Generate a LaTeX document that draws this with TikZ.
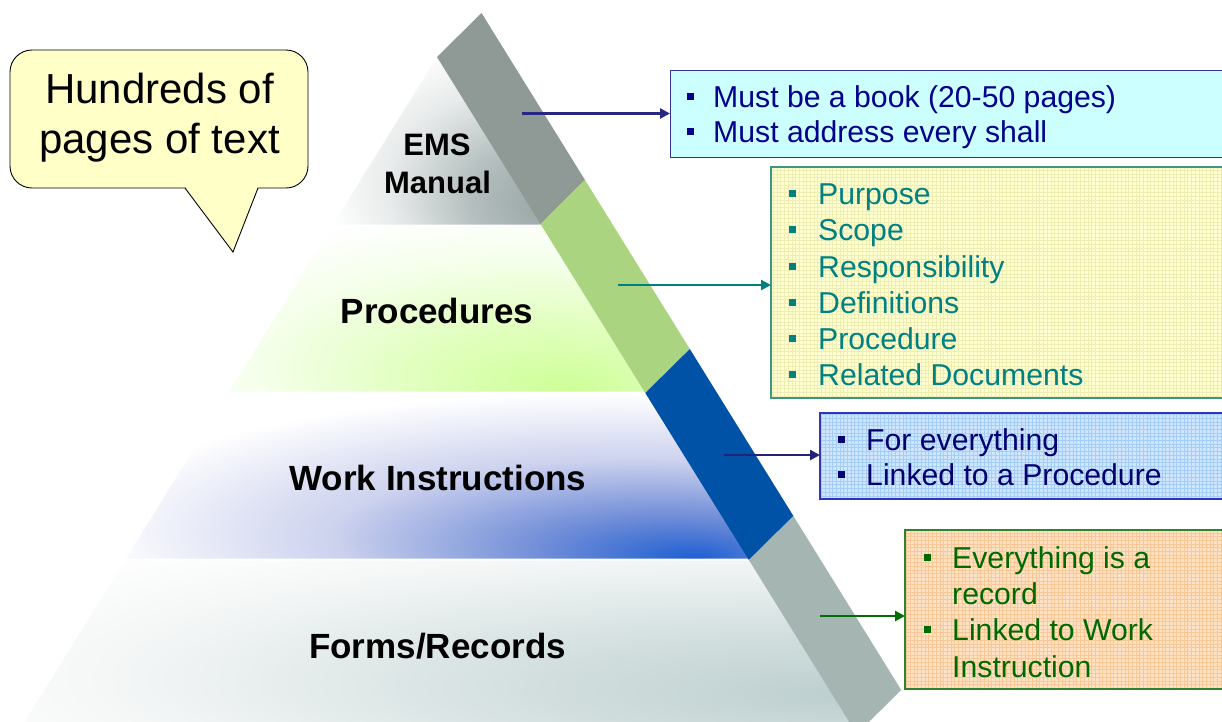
\documentclass[tikz,border=0pt]{standalone}
\usepackage{fontspec}
\setmainfont{Liberation Sans}
\usetikzlibrary{arrows.meta,calc}
\definecolor{bandgrayA}{RGB}{143,153,150}
\definecolor{bandgreen}{RGB}{171,212,128}
\definecolor{bandblue}{RGB}{0,82,166}
\definecolor{bandgrayB}{RGB}{165,181,178}
\definecolor{emsA}{RGB}{150,162,162}
\definecolor{emsB}{RGB}{180,190,190}
\definecolor{emsC}{RGB}{232,235,235}
\definecolor{procA}{RGB}{205,255,150}
\definecolor{procB}{RGB}{225,255,190}
\definecolor{procC}{RGB}{245,255,235}
\definecolor{wiA}{RGB}{30,95,210}
\definecolor{wiB}{RGB}{110,140,215}
\definecolor{wiC}{RGB}{205,210,238}
\definecolor{formA}{RGB}{188,206,206}
\definecolor{formB}{RGB}{214,225,225}
\definecolor{formC}{RGB}{245,247,247}
\pgfdeclareradialshading{tierems}{\pgfpoint{25bp}{-20bp}}{color(0bp)=(emsA); color(15bp)=(emsB); color(30bp)=(emsC); color(42bp)=(white); color(100bp)=(white)}
\pgfdeclareradialshading{tierproc}{\pgfpoint{15bp}{-25bp}}{color(0bp)=(procA); color(16bp)=(procB); color(32bp)=(procC); color(44bp)=(white); color(100bp)=(white)}
\pgfdeclareradialshading{tierwi}{\pgfpoint{20bp}{-25bp}}{color(0bp)=(wiA); color(10bp)=(wiB); color(24bp)=(wiC); color(40bp)=(white); color(100bp)=(white)}
\pgfdeclareradialshading{tierform}{\pgfpoint{25bp}{-15bp}}{color(0bp)=(formA); color(18bp)=(formB); color(36bp)=(formC); color(48bp)=(white); color(100bp)=(white)}
\definecolor{calloutfill}{RGB}{255,255,200}
\definecolor{boxAfill}{RGB}{204,255,255}
\definecolor{boxAline}{RGB}{51,51,153}
\definecolor{boxAtext}{RGB}{0,0,140}
\definecolor{boxBfill}{RGB}{255,255,208}
\definecolor{boxBgrid}{RGB}{238,238,180}
\definecolor{boxBline}{RGB}{60,150,130}
\definecolor{boxBtext}{RGB}{0,128,128}
\definecolor{boxCfill}{RGB}{206,230,255}
\definecolor{boxCgrid}{RGB}{165,205,250}
\definecolor{boxCline}{RGB}{51,51,190}
\definecolor{boxCtext}{RGB}{0,0,110}
\definecolor{boxDfill}{RGB}{255,226,196}
\definecolor{boxDgrid}{RGB}{250,200,150}
\definecolor{boxDline}{RGB}{50,130,50}
\definecolor{boxDtext}{RGB}{0,105,0}
\definecolor{arrowA}{RGB}{40,40,130}
\definecolor{arrowB}{RGB}{0,128,128}
\definecolor{arrowC}{RGB}{35,35,120}
\definecolor{arrowD}{RGB}{0,110,0}
\newcommand{\bsq}[1]{\llap{\rule[7pt]{7.5pt}{7.5pt}\hspace{#1}}}
\begin{document}
\begin{tikzpicture}[x=1pt,y=-1pt,
  tierlabel/.style={inner sep=0pt,anchor=base,font=\fontsize{35}{42}\selectfont\bfseries},
  emslabel/.style={inner sep=0pt,anchor=base,font=\fontsize{31}{37}\selectfont\bfseries},
  calloutlabel/.style={inner sep=0pt,anchor=base,font=\fontsize{42}{50}\selectfont},
  boxline/.style={inner sep=0pt,anchor=base west,font=\fontsize{30.2}{36}\selectfont},
  infobox/.style={draw,line width=1.4pt,anchor=north west,inner sep=0pt},
  gridfine/.style={line width=0.45pt},
  connector/.style={line width=2.8pt,-{Triangle[length=10pt,width=10pt]}}
]
\useasboundingbox (0,0) rectangle (1222,721);
\fill[white] (0,0) rectangle (1222,721);
\begin{scope}
\clip (0,0) rectangle (1222,721);

% pyramid tiers
\shade[shading=tierems]
  (437,57) -- (333.1,224.5) -- (552.9,224.5) -- (449,57) -- cycle;
\shade[shading=tierproc]
  (331.9,226.5) -- (229.6,391.5) -- (656.4,391.5) -- (554.1,226.5) -- cycle;
\shade[shading=tierwi]
  (228.4,393.5) -- (126.1,558.5) -- (759.9,558.5) -- (657.6,393.5) -- cycle;
\shade[shading=tierform]
  (124.8,560.5) -- (19.7,730) -- (866.3,730) -- (761.2,560.5) -- cycle;

% diagonal band
\coordinate (L0) at (437,57);
\coordinate (L1) at (540.5,224);
\coordinate (L2) at (645.3,393);
\coordinate (L3) at (748.9,560);
\coordinate (L4) at (856.7,734);
\fill[bandgrayA] (L0) -- (L1) -- ($(L1)+(44.5,-44)$) -- ($(L0)+(44.5,-44)$) -- cycle;
\fill[bandgreen] (L1) -- (L2) -- ($(L2)+(44.5,-44)$) -- ($(L1)+(44.5,-44)$) -- cycle;
\fill[bandblue] (L2) -- (L3) -- ($(L3)+(44.5,-44)$) -- ($(L2)+(44.5,-44)$) -- cycle;
\fill[bandgrayB] (L3) -- (L4) -- ($(L4)+(44.5,-44)$) -- ($(L3)+(44.5,-44)$) -- cycle;

% tier labels
\node[emslabel] (ems1) at (437,155) {EMS};
\node[emslabel] (ems2) at (437.5,193) {Manual};
\node[tierlabel] (proc) at (437,323) {Procedures};
\node[tierlabel] (wi) at (438,490) {Work Instructions};
\node[tierlabel] (forms) at (437.5,658) {Forms/Records};

% callout
\draw[fill=calloutfill, line width=0.9pt, rounded corners=22pt] (10,50) rectangle (308,188);
\fill[calloutfill] (185,186.5) -- (233,252) -- (258,186.5) -- cycle;
\draw[line width=0.9pt] (185,188) -- (233,252) -- (258,188);
\node[calloutlabel] (c1) at (159.5,103) {Hundreds of};
\node[calloutlabel] (c2) at (159.5,153) {pages of text};

% box A
\node[infobox, draw=boxAline, fill=boxAfill, minimum width=600pt, minimum height=87pt] (bA) at (670,70) {};
\node[boxline, text=boxAtext] (a1) at (713,107) {\bsq{19pt}Must be a book (20-50 pages)};
\node[boxline, text=boxAtext] (a2) at (713,142) {\bsq{19pt}Must address every shall};

% box B
\node[infobox, draw=boxBline, fill=boxBfill, minimum width=600pt, minimum height=231pt] (bB) at (771,167) {};
\begin{scope}
\clip (771,167) rectangle (1240,398);
\draw[gridfine, boxBgrid, step=3.7pt] (771,167) grid (1240,398);
\end{scope}
\draw[boxBline, line width=1.4pt] (1240,167) -- (771,167) -- (771,398) -- (1240,398);
\node[boxline, text=boxBtext] (p1) at (818,204) {\bsq{22pt}Purpose};
\node[boxline, text=boxBtext] (p2) at (818,240) {\bsq{22pt}Scope};
\node[boxline, text=boxBtext] (p3) at (818,277) {\bsq{22pt}Responsibility};
\node[boxline, text=boxBtext] (p4) at (818,313) {\bsq{22pt}Definitions};
\node[boxline, text=boxBtext] (p5) at (818,349) {\bsq{22pt}Procedure};
\node[boxline, text=boxBtext] (p6) at (818,385) {\bsq{22pt}Related Documents};

% box C
\node[infobox, draw=boxCline, fill=boxCfill, minimum width=600pt, minimum height=86pt] (bC) at (820,413) {};
\begin{scope}
\clip (820,413) rectangle (1240,499);
\draw[gridfine, boxCgrid, step=3.7pt] (820,413) grid (1240,499);
\end{scope}
\draw[boxCline, line width=1.4pt] (1240,413) -- (820,413) -- (820,499) -- (1240,499);
\node[boxline, text=boxCtext] (w1) at (866,450) {\bsq{21pt}For everything};
\node[boxline, text=boxCtext] (w2) at (866,485) {\bsq{21pt}Linked to a Procedure};

% box D
\node[infobox, draw=boxDline, fill=boxDfill, minimum width=600pt, minimum height=159pt] (bD) at (905,530) {};
\begin{scope}
\clip (905,530) rectangle (1240,689);
\draw[gridfine, boxDgrid, step=3.7pt] (905,530) grid (1240,689);
\end{scope}
\draw[boxDline, line width=1.4pt] (1240,530) -- (905,530) -- (905,689) -- (1240,689);
\node[boxline, text=boxDtext] (f1) at (952,568) {\bsq{21pt}Everything is a};
\node[boxline, text=boxDtext] (f2) at (952,604) {record};
\node[boxline, text=boxDtext] (f3) at (952,640) {\bsq{21pt}Linked to Work};
\node[boxline, text=boxDtext] (f4) at (952,677) {Instruction};

% connectors
\coordinate (sA) at (522,113.5);
\coordinate (sB) at (618,285);
\coordinate (sC) at (724,455);
\coordinate (sD) at (820,616);
\draw[connector, arrowA] (sA) -- (sA -| bA.west);
\draw[connector, arrowB] (sB) -- (sB -| bB.west);
\draw[connector, arrowC] (sC) -- (sC -| bC.west);
\draw[connector, arrowD] (sD) -- (sD -| bD.west);
\end{scope}
\end{tikzpicture}
\end{document}
